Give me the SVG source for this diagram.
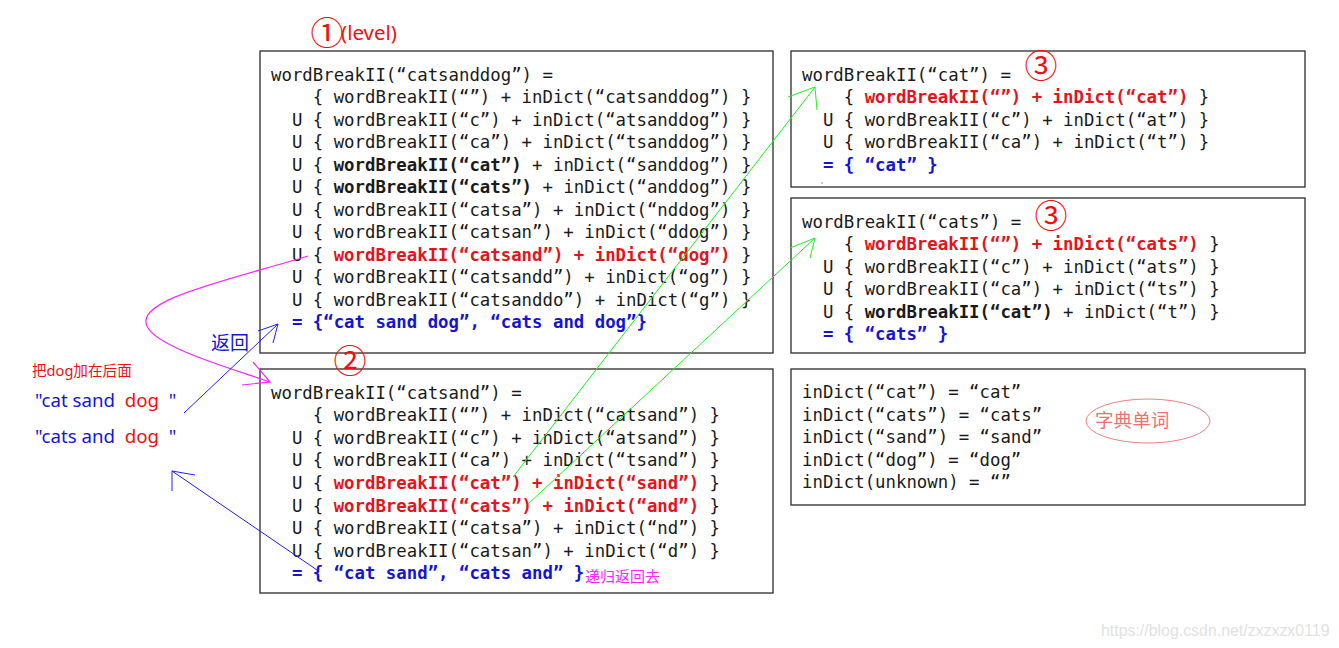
<svg xmlns="http://www.w3.org/2000/svg" width="1339" height="648" viewBox="0 0 1339 648">
<style>
.box{fill:#fff;stroke:#3a3a3a;stroke-width:1.4}
.code{font-family:"DejaVu Sans Mono","Liberation Mono",monospace;font-size:17.35px;fill:#1a1a1a;white-space:pre}
.b{font-weight:bold}
.r{fill:#e3141b;font-weight:bold}
.bl{fill:#1414d2;font-weight:bold}
.cjk{font-family:"Noto Sans","Noto Sans CJK SC",sans-serif}
.num{font-family:"Noto Sans CJK SC",sans-serif;fill:#f01010;font-size:33px}
.green{stroke:#22ee22;stroke-width:1;fill:none}
.blue{stroke:#2020ee;stroke-width:1;fill:none}
.mag{stroke:#ff22ff;stroke-width:1.2;fill:none}
</style>
<rect width="1339" height="648" fill="#fff"/>

<g id="node-level1">
<rect class="box" x="260" y="51" width="513" height="302"/>
<text class="num" x="310.5" y="45">①</text>
<text class="cjk" x="341" y="39.5" font-size="20.5" fill="#f01010">(level)</text>
<text class="code" x="271" y="81">wordBreakII(“catsanddog”) =</text>
<text class="code" x="271" y="103.45">    { wordBreakII(“”) + inDict(“catsanddog”) }</text>
<text class="code" x="271" y="125.9">  U { wordBreakII(“c”) + inDict(“atsanddog”) }</text>
<text class="code" x="271" y="148.35">  U { wordBreakII(“ca”) + inDict(“tsanddog”) }</text>
<text class="code" x="271" y="170.8">  U { <tspan class="b">wordBreakII(“cat”)</tspan> + inDict(“sanddog”) }</text>
<text class="code" x="271" y="193.25">  U { <tspan class="b">wordBreakII(“cats”)</tspan> + inDict(“anddog”) }</text>
<text class="code" x="271" y="215.7">  U { wordBreakII(“catsa”) + inDict(“nddog”) }</text>
<text class="code" x="271" y="238.15">  U { wordBreakII(“catsan”) + inDict(“ddog”) }</text>
<text class="code" x="271" y="260.6">  U { <tspan class="r">wordBreakII(“catsand”) + inDict(“dog”)</tspan> }</text>
<text class="code" x="271" y="283.05">  U { wordBreakII(“catsandd”) + inDict(“og”) }</text>
<text class="code" x="271" y="305.5">  U { wordBreakII(“catsanddo”) + inDict(“g”) }</text>
<text class="code" x="271" y="327.95">  <tspan class="bl">= {“cat sand dog”, “cats and dog”}</tspan></text>
</g>

<g id="node-level2">
<rect class="box" x="260" y="369" width="513" height="224"/>
<text class="num" x="333.5" y="373">②</text>
<text class="code" x="271" y="398.5">wordBreakII(“catsand”) =</text>
<text class="code" x="271" y="421.1">    { wordBreakII(“”) + inDict(“catsand”) }</text>
<text class="code" x="271" y="443.7">  U { wordBreakII(“c”) + inDict(“atsand”) }</text>
<text class="code" x="271" y="466.3">  U { wordBreakII(“ca”) + inDict(“tsand”) }</text>
<text class="code" x="271" y="488.9">  U { <tspan class="r">wordBreakII(“cat”) + inDict(“sand”)</tspan> }</text>
<text class="code" x="271" y="511.5">  U { <tspan class="r">wordBreakII(“cats”) + inDict(“and”)</tspan> }</text>
<text class="code" x="271" y="534.1">  U { wordBreakII(“catsa”) + inDict(“nd”) }</text>
<text class="code" x="271" y="556.7">  U { wordBreakII(“catsan”) + inDict(“d”) }</text>
<text class="code" x="271" y="579.3">  <tspan class="bl">= { “cat sand”, “cats and” }</tspan></text>
<text class="cjk" x="585" y="581.5" font-size="15" fill="#ff22ff">递归返回去</text>
</g>

<g id="node-cat">
<rect class="box" x="791" y="51" width="514" height="136"/>
<text class="num" x="1024.5" y="78">③</text>
<text class="code" x="802" y="81">wordBreakII(“cat”) =</text>
<text class="code" x="802" y="103.45">    { <tspan class="r">wordBreakII(“”) + inDict(“cat”)</tspan> }</text>
<text class="code" x="802" y="125.9">  U { wordBreakII(“c”) + inDict(“at”) }</text>
<text class="code" x="802" y="148.35">  U { wordBreakII(“ca”) + inDict(“t”) }</text>
<text class="code" x="802" y="170.8">  <tspan class="bl">= { “cat” }</tspan></text>
<rect x="821.5" y="182.5" width="1" height="1" fill="#333"/>
</g>

<g id="node-cats">
<rect class="box" x="791" y="198" width="514" height="155"/>
<text class="num" x="1034.5" y="228">③</text>
<text class="code" x="802" y="227.8">wordBreakII(“cats”) =</text>
<text class="code" x="802" y="250.3">    { <tspan class="r">wordBreakII(“”) + inDict(“cats”)</tspan> }</text>
<text class="code" x="802" y="272.8">  U { wordBreakII(“c”) + inDict(“ats”) }</text>
<text class="code" x="802" y="295.3">  U { wordBreakII(“ca”) + inDict(“ts”) }</text>
<text class="code" x="802" y="317.8">  U { <tspan class="b">wordBreakII(“cat”)</tspan> + inDict(“t”) }</text>
<text class="code" x="802" y="340.3">  <tspan class="bl">= { “cats” }</tspan></text>
</g>

<g id="node-dict">
<rect class="box" x="791" y="369" width="514" height="136"/>
<text class="code" x="802" y="398.2">inDict(“cat”) = “cat”</text>
<text class="code" x="802" y="420.7">inDict(“cats”) = “cats”</text>
<text class="code" x="802" y="443.2">inDict(“sand”) = “sand”</text>
<text class="code" x="802" y="465.7">inDict(“dog”) = “dog”</text>
<text class="code" x="802" y="488.2">inDict(unknown) = “”</text>
<ellipse cx="1148" cy="421" rx="62" ry="22" fill="none" stroke="#f08080" stroke-width="1"/>
<text class="cjk" x="1095" y="427" font-size="18.6" fill="#f07070">字典单词</text>
</g>

<g id="notes">
<text class="cjk" x="32" y="376" font-size="14.6" fill="#f01010">把dog加在后面</text>
<text class="cjk" x="35" y="407" font-size="18.7" fill="#1414e0" style="white-space:pre">"cat sand  <tspan fill="#f01010">dog</tspan>  "</text>
<text class="cjk" x="35" y="443" font-size="18.7" fill="#1414e0" style="white-space:pre">"cats and  <tspan fill="#f01010">dog</tspan>  "</text>
<text class="cjk" x="211" y="350" font-size="19" fill="#1414e0">返回</text>
<text font-family="Liberation Sans, Arial, sans-serif" x="1101" y="636" font-size="15.9" fill="#e2e2e2">https://blog.csdn.net/zxzxzx0119</text>
</g>

<g id="connectors">
<path class="mag" d="M308,256 C230,280 130,300 148,328 C160,348 230,368 270,382"/>
<path class="mag" d="M253,362 L270,382 L242,385"/>
<path class="blue" d="M184,413 L278,324"/>
<path class="blue" d="M258,331 L278,324 L273,343"/>
<path class="blue" d="M317,570 L172,471"/>
<path class="blue" d="M195,475 L172,471 L172,491"/>
<path class="green" d="M513,477 L815,87"/>
<path class="green" d="M788,97 L815,87 L817,110"/>
<path class="green" d="M528,504 L815,238"/>
<path class="green" d="M790,248 L815,238 L810,258"/>
</g>
</svg>
